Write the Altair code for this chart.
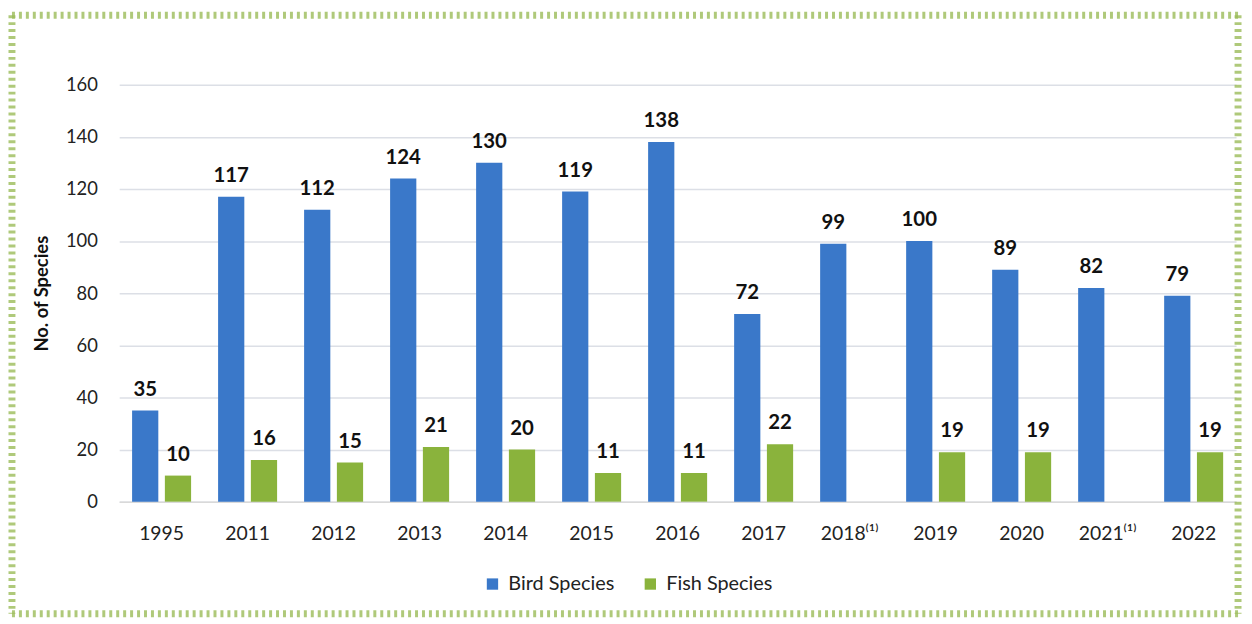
import altair as alt
import pandas as pd

years = ["1995", "2011", "2012", "2013", "2014", "2015", "2016", "2017",
         "2018⁽¹⁾", "2019", "2020", "2021⁽¹⁾", "2022"]
bird = [35, 117, 112, 124, 130, 119, 138, 72, 99, 100, 89, 82, 79]
fish = [10, 16, 15, 21, 20, 11, 11, 22, None, 19, 19, None, 19]
series = ["Bird Species", "Fish Species"]
colors = ["#3A78C9", "#8AB33C"]
y_ticks = [0, 20, 40, 60, 80, 100, 120, 140, 160]

rows = []
for yr, b, f in zip(years, bird, fish):
    rows.append({"year": yr, "series": series[0], "value": b})
    if f is not None:
        rows.append({"year": yr, "series": series[1], "value": f})
df = pd.DataFrame(rows)

FONT = "Lato"
W, H = 1125, 420

x = alt.X("year:N", sort=years, title=None,
          scale=alt.Scale(paddingInner=0.314, paddingOuter=0.15),
          axis=alt.Axis(labelAngle=0, labelFontSize=19.5, labelFont=FONT,
                        labelColor="#222222", labelPadding=23, ticks=False,
                        domainColor="#D9D9D9", domainWidth=1.5))
xo = alt.XOffset("series:N", sort=series,
                 scale=alt.Scale(paddingInner=0.2))
y = alt.Y("value:Q", title="No. of Species",
          scale=alt.Scale(domain=[0, 160], nice=False),
          axis=alt.Axis(values=y_ticks, labelFontSize=18.5, labelFont=FONT,
                        labelColor="#222222", labelPadding=22, ticks=False,
                        domain=False, gridColor="#DCDFE6", gridWidth=1.5,
                        titleFont=FONT, titleFontSize=18.5, titleFontWeight="bold",
                        titleColor="#111111", titlePadding=14))
color = alt.Color("series:N", sort=series,
                  scale=alt.Scale(domain=series, range=colors),
                  legend=alt.Legend(title=None, orient="none", direction="horizontal",
                                    legendX=366, legendY=493,
                                    symbolType="square", symbolSize=130,
                                    symbolStrokeWidth=0,
                                    labelFont=FONT, labelFontSize=20,
                                    labelColor="#222222", columnPadding=26,
                                    labelOffset=6))

bars = alt.Chart(df).mark_bar().encode(x=x, xOffset=xo, y=y, color=color)
labels = alt.Chart(df).mark_text(baseline="bottom", dy=-11, fontSize=20.5,
                                 fontWeight="bold", font=FONT, color="#111111").encode(
    x=alt.X("year:N", sort=years), xOffset=alt.XOffset("series:N", sort=series),
    y="value:Q", text="value:Q")

bcol = "#9BBB59"
border_style = dict(color=bcol, strokeWidth=7, strokeDash=[3, 4], clip=False, opacity=0.8)
left = -108
top = -70
right = 1127
bottom = H + 113
b1 = alt.Chart().mark_rule(**border_style).encode(x=alt.value(left), x2=alt.value(right), y=alt.value(top))
b2 = alt.Chart().mark_rule(**border_style).encode(x=alt.value(left), x2=alt.value(right), y=alt.value(bottom))
b3 = alt.Chart().mark_rule(**border_style).encode(x=alt.value(left), y=alt.value(top), y2=alt.value(bottom))
b4 = alt.Chart().mark_rule(**border_style).encode(x=alt.value(right), y=alt.value(top), y2=alt.value(bottom))

chart = alt.layer(bars, labels, b1, b2, b3, b4).properties(
    width=W, height=H,
    autosize=alt.AutoSizeParams(type="none"),
    padding={"left": 112, "top": 75, "right": 8, "bottom": 121},
    background="white",
).configure_view(stroke=None)

chart.save("out.html", embed_options={"renderer": "svg", "actions": False})
